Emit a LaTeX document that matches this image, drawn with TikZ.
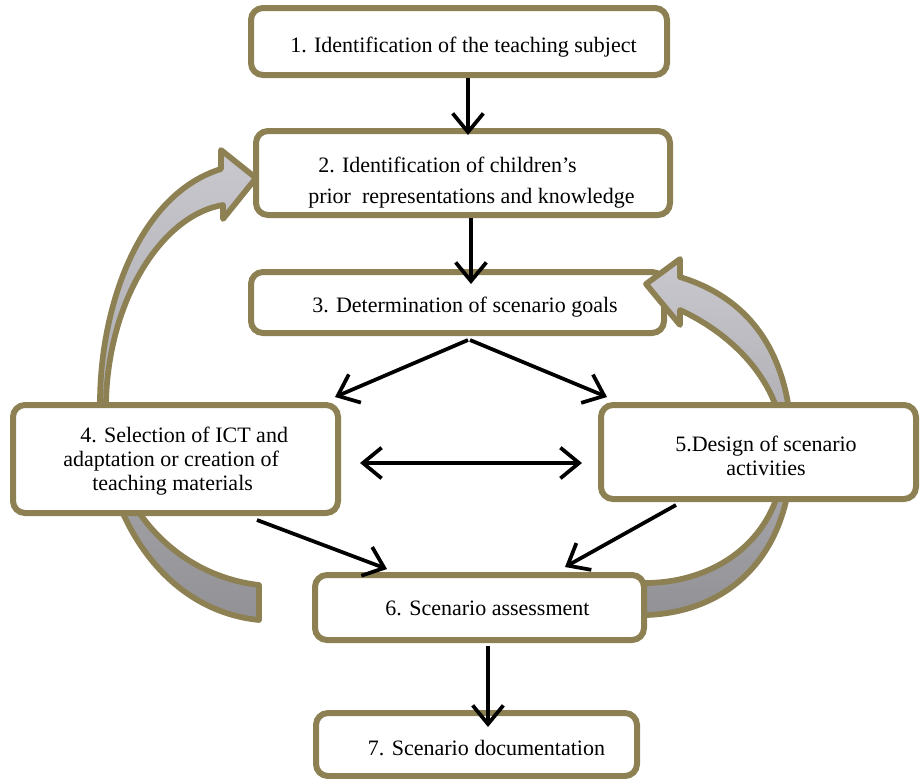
\documentclass[tikz,border=0pt]{standalone}
\usepackage{fontspec}
\setmainfont{Liberation Serif}
\usetikzlibrary{arrows.meta,calc}
\definecolor{olivebd}{RGB}{141,129,83}
\definecolor{arrlight}{RGB}{200,200,206}
\definecolor{arrdark}{RGB}{146,146,150}
\begin{document}
\begin{tikzpicture}[x=0.75pt,y=-0.75pt,
  box/.style={draw=olivebd,line width=4.5pt,rounded corners=9pt,fill=white,inner sep=0pt,rectangle},
  txt/.style={inner sep=0pt,font=\fontsize{16.5}{18}\selectfont},
  curvy/.style={draw=olivebd,line width=4.3pt,line join=round,top color=arrlight,bottom color=arrdark},
  arr/.style={draw=black,line width=2.8pt,-{Straight Barb[length=14pt,width=23pt]}},
  darr/.style={draw=black,line width=2.8pt,{Straight Barb[length=14pt,width=23pt]}-{Straight Barb[length=14pt,width=23pt]}}]
\useasboundingbox (0,0) rectangle (922,779);

\node[box,minimum width=312pt,minimum height=50.25pt] (b1) at (459,41.5) {};
\node[box,minimum width=310.5pt,minimum height=63pt] (b2) at (463,173) {};
\node[box,minimum width=309.75pt,minimum height=45.75pt] (b3) at (457.5,302.5) {};

% big curved arrows
\path[curvy] (259,620) .. controls (160,610) and (100,510) .. (100,403)
  .. controls (100,310) and (137,195) .. (221,169)
  -- (221,150) -- (256,178) -- (223,219) -- (223,205)
  .. controls (162,215) and (108,300) .. (106,403)
  .. controls (106,500) and (172,575) .. (259,585) -- cycle;
\path[curvy] (630,615) -- (647,615) .. controls (725,612) and (790,560) .. (792,452)
  .. controls (792,360) and (755,300) .. (680,277)
  -- (680,259) -- (646,284) -- (680,325) -- (680,310)
  .. controls (728,332) and (784,380) .. (784,452)
  .. controls (784,535) and (720,582) .. (647,583) -- (630,583) -- cycle;

\node[box,minimum width=243.75pt,minimum height=81pt] (b4) at (175.5,459) {};
\node[box,minimum width=236.25pt,minimum height=70.5pt] (b5) at (758.5,452) {};
\node[box,minimum width=246.75pt,minimum height=48.75pt] (b6) at (479.5,607.5) {};
\node[box,minimum width=240.75pt,minimum height=47.25pt] (b7) at (476.5,744.5) {};

\node[txt,anchor=base] (t1) at (463.5,52) {1. Identification of the teaching subject};
\node[txt,anchor=base west] (t2a) at (318,172) {2. Identification of children’s};
\node[txt,anchor=base west] (t2b) at (308,203) {prior\ \ representations and knowledge};
\node[txt,anchor=base] (t3) at (465,312) {3. Determination of scenario goals};
\node[txt,anchor=base west,align=left] (t4) at (63,490) {\hspace*{12.75pt}4. Selection of ICT and\\adaptation or creation of\\\hspace*{21.75pt}teaching materials};
\node[txt,anchor=base,align=center] (t5) at (766,475) {5.Design of scenario\\activities};
\node[txt,anchor=base] (t6) at (487.5,615) {6. Scenario assessment};
\node[txt,anchor=base] (t7) at (486.5,755) {7. Scenario documentation};

% black connectors
\draw[arr] ($(b1.south)+(9,0)$) -- ($(b2.north)+(5,7)$);
\draw[arr] ($(b2.south)+(8,0)$) -- ($(b3.north)+(13.5,15)$);
\draw[arr] ($(b3.south)+(10.5,4)$) -- ($(b4.north east)+(-6,-5)$);
\draw[arr] ($(b3.south)+(12.5,4)$) -- ($(b5.north west)+(9,-5)$);
\draw[darr] ($(b4.east)+(19,4)$) -- ($(b5.west)+(-16,11)$);
\draw[arr] ($(b4.south)+(81.5,4)$) -- ($(b6.north)+(-92.5,-3)$);
\draw[arr] ($(b5.south)+(-82.5,3)$) -- ($(b6.north)+(85.5,-5)$);
\draw[arr] ($(b6.south)+(8.5,3)$) -- ($(b7.north)+(11.5,17)$);
\end{tikzpicture}
\end{document}
